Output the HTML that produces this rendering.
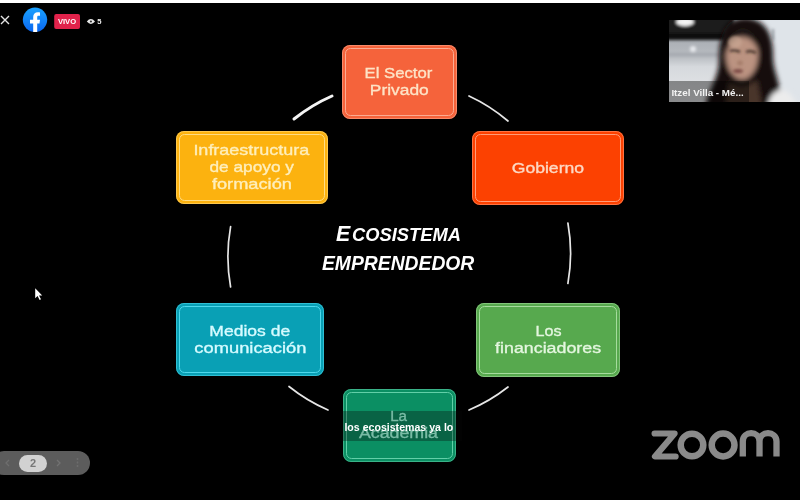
<!DOCTYPE html>
<html><head><meta charset="utf-8">
<style>
html,body{margin:0;padding:0;background:#000;}
body{width:800px;height:500px;position:relative;overflow:hidden;font-family:"Liberation Sans",sans-serif;}
.topbar{position:absolute;left:0;top:0;width:800px;height:3px;background:#fff;}
.box{position:absolute;border-radius:8px;box-sizing:border-box;filter:blur(0.5px);}
.box::before{content:"";position:absolute;left:0;top:0;right:0;bottom:0;border:1px solid var(--bl);opacity:.55;border-radius:8px;}
.box::after{content:"";position:absolute;left:3px;top:3px;right:3px;bottom:3px;border:1.3px solid var(--bl);border-radius:5.5px;}
.t{-webkit-text-stroke:0.35px currentColor;position:absolute;white-space:pre;line-height:18px;height:18px;transform-origin:50% 50%;filter:blur(0.45px);}
.title{position:absolute;white-space:pre;color:#fff;font-weight:bold;font-style:italic;filter:blur(0.5px);transform-origin:0 50%;}
.cap{z-index:4;position:absolute;left:344.4px;top:419.5px;font-size:10.6px;line-height:14px;font-weight:bold;color:#fff;white-space:pre;filter:blur(0.4px);transform-origin:0 50%;}
.vivo{position:absolute;left:57.9px;top:16.8px;font-size:7.6px;line-height:10px;font-weight:bold;color:#fff;filter:blur(0.4px);}
.cnt{position:absolute;left:97.2px;top:16.8px;font-size:7.6px;line-height:10px;font-weight:bold;color:#eee;filter:blur(0.4px);}
.nm{position:absolute;left:671.4px;top:86.5px;font-size:9.8px;line-height:12px;font-weight:bold;color:#f2f2f2;white-space:pre;filter:blur(0.45px);}
.pg{position:absolute;left:19px;top:456px;width:28px;text-align:center;font-size:11px;line-height:14px;font-weight:bold;color:#777;filter:blur(0.5px);}
</style></head><body>
<div class="topbar"></div>

<svg width="800" height="500" style="position:absolute;left:0;top:0;filter:blur(0.5px)" viewBox="0 0 800 500">
 <g fill="none" stroke="#e6e6e6" stroke-linecap="round">
  <path d="M294 119 A171 171 0 0 1 332 96" stroke-width="3" stroke="#f4f4f4"/>
  <path d="M469 96 A171 171 0 0 1 508 121" stroke-width="1.7"/>
  <path d="M567.9 223 A171 171 0 0 1 567.9 283.5" stroke-width="1.7"/>
  <path d="M508 387 A171 171 0 0 1 469 410" stroke-width="1.7"/>
  <path d="M328 410 A171 171 0 0 1 289 386.5" stroke-width="1.7"/>
  <path d="M230.6 287 A171 171 0 0 1 230.6 226.6" stroke-width="1.7"/>
 </g>
</svg>

<div class="box" style="left:341.5px;top:45px;width:115px;height:74px;background:#f5633b;--bl:#fbab92"></div>
<div class="box" style="left:471.5px;top:130.5px;width:152px;height:74px;background:#fc4101;--bl:#ff9c78"></div>
<div class="box" style="left:475.5px;top:303px;width:144.5px;height:73.5px;background:#57a94e;--bl:#a6dc9e"></div>
<div class="box" style="left:342.5px;top:388.5px;width:113px;height:73.5px;background:#0b8f63;--bl:#62cfa8"></div>
<div class="box" style="left:176px;top:303px;width:148px;height:73px;background:#09a0b5;--bl:#4ed8ec"></div>
<div class="box" style="left:176px;top:131px;width:152px;height:73px;background:#fcb20f;--bl:#fedc84"></div>

<div class="t" style="left:367.2px;top:64.2px;font-size:15.5px;color:#fde3c6;transform:scaleX(1.078)">El Sector</div>
<div class="t" style="left:372.9px;top:81.0px;font-size:15.5px;color:#fde3c6;transform:scaleX(1.121)">Privado</div>
<div class="t" style="left:515.9px;top:159.2px;font-size:15.5px;color:#fdd9c4;transform:scaleX(1.135)">Gobierno</div>
<div class="t" style="left:535.5px;top:322.0px;font-size:15.5px;color:#e4f6df;transform:scaleX(1.040)">Los</div>
<div class="t" style="left:501.9px;top:339.0px;font-size:15.5px;color:#e4f6df;transform:scaleX(1.150)">financiadores</div>
<div class="t" style="left:214.2px;top:322.0px;font-size:15.5px;color:#d6fbff;transform:scaleX(1.130)">Medios de</div>
<div class="t" style="left:202.6px;top:339.0px;font-size:15.5px;color:#d6fbff;transform:scaleX(1.182)">comunicación</div>
<div class="t" style="left:390.4px;top:406.9px;font-size:15.5px;color:#7abca6;z-index:3;transform:scaleX(0.974)">La</div>
<div class="t" style="left:364.2px;top:424.2px;font-size:15.5px;color:#7abca6;z-index:3;transform:scaleX(1.146)">Academia</div>
<div class="t" style="left:203.2px;top:141.4px;font-size:15px;color:#feeebb;transform:scaleX(1.199)">Infraestructura</div>
<div class="t" style="left:215.1px;top:157.8px;font-size:15px;color:#feeebb;transform:scaleX(1.150)">de apoyo y</div>
<div class="t" style="left:218.7px;top:174.8px;font-size:15px;color:#feeebb;transform:scaleX(1.215)">formación</div>

<div class="title" style="left:336.4px;top:218.6px;font-size:22.2px;line-height:30px;transform:scaleX(.96)">E</div>
<div class="title" style="left:352.2px;top:220.2px;font-size:19.2px;line-height:30px;transform:scaleX(.955)">COSISTEMA</div>
<div class="title" style="left:322.2px;top:247.9px;font-size:19.6px;line-height:30px;transform:scaleX(.985)">EMPRENDEDOR</div>

<!-- caption overlay -->
<div style="position:absolute;left:340px;top:411px;width:122px;height:30px;background:rgba(6,6,6,.32);filter:blur(0.5px);z-index:2"></div>
<div class="cap">los ecosistemas ya lo</div>

<!-- header -->
<svg width="120" height="40" viewBox="0 0 120 40" style="position:absolute;left:0;top:0;filter:blur(0.45px)">
 <defs><linearGradient id="fbg" x1="0" y1="0" x2="0" y2="1"><stop offset="0" stop-color="#1aa2ff"/><stop offset="1" stop-color="#0a66f0"/></linearGradient></defs>
 <path d="M1 16 L9 24 M9 16 L1 24" stroke="#e4e4e4" stroke-width="1.4" fill="none"/>
 <circle cx="35" cy="19.8" r="12.2" fill="url(#fbg)"/>
 <path d="M33.2 32 V23.6 H30 V19.7 H33.2 V17 C33.2 13.8 35.2 12.2 37.8 12.2 C38.8 12.2 39.6 12.3 40 12.4 V15.8 H38.4 C37.4 15.8 37.2 16.4 37.2 17.3 V19.7 H40 L39.5 23.6 H37.2 V32 Z" fill="#fff"/>
 <rect x="54.2" y="14" width="25.8" height="15" rx="2" fill="#e1224b"/>
 <path d="M86.8 21.5 Q90.9 16.6 95 21.5 Q90.9 26.4 86.8 21.5 Z" fill="#e8e8e8"/>
 <circle cx="90.9" cy="21.5" r="1.1" fill="#333"/>
</svg>
<div class="vivo">VIVO</div>
<div class="cnt">5</div>

<!-- webcam -->
<svg width="131" height="82" viewBox="0 0 131 82" style="position:absolute;left:669px;top:20px;">
 <defs>
  <filter id="b1" x="-20%" y="-20%" width="140%" height="140%"><feGaussianBlur stdDeviation="1.6"/></filter>
  <filter id="b2" x="-20%" y="-20%" width="140%" height="140%"><feGaussianBlur stdDeviation="2.5"/></filter>
  <clipPath id="wc"><rect x="0" y="0" width="131" height="82"/></clipPath>
  <linearGradient id="wall" x1="0" y1="0" x2="0" y2="1"><stop offset="0" stop-color="#a9adb3"/><stop offset="0.3" stop-color="#b9bdc2"/><stop offset="0.45" stop-color="#d6d9dd"/><stop offset="1" stop-color="#e6e8ea"/></linearGradient>
 </defs>
 <g clip-path="url(#wc)">
  <rect x="0" y="0" width="131" height="82" fill="#d8dde2"/>
  <rect x="0" y="18" width="60" height="64" fill="url(#wall)"/>
  <rect x="86" y="0" width="45" height="82" fill="#dfe4e9"/>
  <g filter="url(#b1)">
   <rect x="-5" y="-5" width="70" height="22" fill="#1b1b1b"/>
   <rect x="-5" y="13" width="62" height="7" fill="#0c0c0c"/>
   <ellipse cx="16" cy="2" rx="9" ry="4" fill="#f4f4f4"/>
   <ellipse cx="24" cy="29" rx="3" ry="3" fill="#e8eaee"/>
   <rect x="-2" y="33" width="52" height="3" fill="#a4a8ae"/>
  </g>
  <g filter="url(#b2)">
   <path d="M38 92 C34 74 50 62 50 40 C50 12 58 -2 76 -2 C94 -2 104 12 104 34 C103 54 116 66 110 92 Z" fill="#17110f"/>
   <ellipse cx="73" cy="35" rx="16" ry="24.5" fill="#bb9381"/>
   <path d="M57 34 C58 16 66 9 74 8 C83 9 89 18 90 32 C86 22 81 17 73 17 C66 17 61 22 57 34Z" fill="#1f1512"/>
   <path d="M60 62 Q73 72 88 60 L94 92 L56 92 Z" fill="#4a352c"/>
   <path d="M100 80 C106 66 120 66 127 84 L127 92 L98 92 Z" fill="#ececec"/>
  </g>
  <g filter="url(#b1)">
   <path d="M61 31 Q66 29 71 32" stroke="#3a2a24" stroke-width="2.2" fill="none"/>
   <path d="M77 32 Q82 30 87 33" stroke="#3a2a24" stroke-width="2.2" fill="none"/>
   <ellipse cx="69" cy="51" rx="5" ry="2" fill="#7a4a44"/>
   <ellipse cx="71" cy="43" rx="3" ry="2.5" fill="#a67e6a"/>
   <ellipse cx="66" cy="22" rx="7" ry="6" fill="#c9a693" opacity=".7"/>
   <path d="M104 9 V20" stroke="#7a7f86" stroke-width="1.6" fill="none"/>
  </g>
  <rect x="0" y="61" width="80" height="21" fill="rgba(0,0,0,.4)"/>
 </g>
</svg>
<div class="nm">Itzel Villa - Mé...</div>

<!-- zoom logo -->
<svg width="160" height="60" viewBox="640 415 160 60" style="position:absolute;left:640px;top:415px;filter:blur(0.55px)">
 <g fill="none" stroke="#8a8a8a" stroke-linejoin="round" stroke-linecap="round">
  <path d="M654.6 433.5 H674.6 L655 456.5 H675.6" stroke-width="6.2"/>
  <circle cx="692" cy="445" r="11.3" stroke-width="6.5"/>
  <circle cx="723.1" cy="445" r="11.4" stroke-width="6.5"/>
  <path d="M742.8 456.4 V441.5 C742.8 430.4 759.5 430.4 759.5 441.5 V456.4 M759.5 441.5 C759.5 430.4 776.5 430.4 776.5 441.5 V456.4" stroke-width="6.3" stroke-linecap="butt"/>
 </g>
</svg>

<!-- pager -->
<div style="position:absolute;left:-8px;top:451px;width:98px;height:24px;border-radius:12px;background:#5c5c5c;filter:blur(0.6px)"></div>
<div style="position:absolute;left:19px;top:454.5px;width:28px;height:17px;border-radius:8.5px;background:#d2d2d2;filter:blur(0.6px)"></div>
<div class="pg">2</div>
<svg width="100" height="30" viewBox="0 0 100 30" style="position:absolute;left:0;top:448px;filter:blur(0.6px)">
 <path d="M9 12 L6 15 L9 18" stroke="#6e6e6e" stroke-width="1.3" fill="none"/>
 <path d="M57 12 L60 15 L57 18" stroke="#727272" stroke-width="1.3" fill="none"/>
 <path d="M77.5 10 V20" stroke="#6c6c6c" stroke-width="1.5" stroke-dasharray="2 1.5" fill="none"/>
</svg>

<!-- cursor -->
<svg width="14" height="18" viewBox="0 0 14 18" style="position:absolute;left:33px;top:286px;filter:blur(0.4px)">
 <path d="M2.2 2.2 V12.2 L4.6 10 L6.6 14 L8 13.3 L6 9.5 H9.2 Z" fill="#fff"/>
</svg>

</body></html>
